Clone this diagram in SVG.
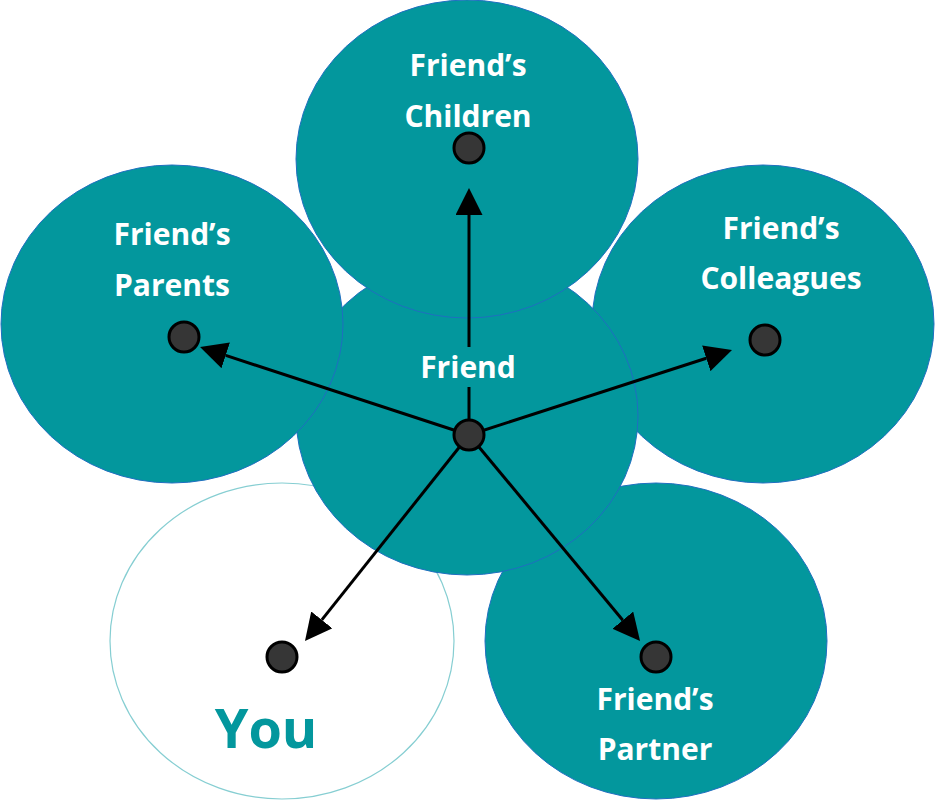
<svg xmlns="http://www.w3.org/2000/svg" width="935" height="800" viewBox="0 0 935 800">
<style>
.c{fill:#03979D;stroke:#1F6FC0;stroke-width:1}
.you{fill:#ffffff;stroke:#86CED2;stroke-width:1.2}
.t{font-family:"Open Sans","Liberation Sans",sans-serif;font-weight:700;font-size:30px;fill:#ffffff;text-anchor:middle}
.ty{font-family:"Open Sans","Liberation Sans",sans-serif;font-weight:700;font-size:54px;fill:#03979D;text-anchor:middle}
.d{fill:#363636;stroke:#000;stroke-width:3}
.l{fill:none;stroke:#000;stroke-width:3}
</style>
<defs>
<marker id="ah" viewBox="0 0 27 27" refX="0" refY="13.5" markerWidth="27" markerHeight="27" markerUnits="userSpaceOnUse" orient="auto">
<path d="M0,0 L27,13.5 L0,27 z" fill="#000"/>
</marker>
</defs>
<rect width="935" height="800" fill="#ffffff"/>
<g id="colleagues">
<ellipse class="c" cx="763" cy="324" rx="171" ry="159"/>
<text class="t" x="781" y="239">Friend’s</text>
<text class="t" x="781" y="289">Colleagues</text>
<circle class="d" cx="765" cy="340" r="15"/>
</g>
<g id="you">
<ellipse class="you" cx="282" cy="641" rx="172" ry="158"/>
<text class="ty" x="266" y="748">You</text>
<circle class="d" cx="282" cy="657" r="15"/>
</g>
<g id="partner">
<ellipse class="c" cx="656" cy="641" rx="171" ry="158"/>
<text class="t" x="655" y="710">Friend’s</text>
<text class="t" x="655" y="760">Partner</text>
<circle class="d" cx="656" cy="657" r="15"/>
</g>
<g id="friend">
<ellipse class="c" cx="467" cy="416" rx="171" ry="159"/>
<text class="t" x="468" y="378">Friend</text>
</g>
<g id="children">
<ellipse class="c" cx="467" cy="159" rx="171" ry="159"/>
<text class="t" x="468" y="76">Friend’s</text>
<text class="t" x="468" y="127">Children</text>
<circle class="d" cx="469" cy="148" r="15"/>
</g>
<g id="parents">
<ellipse class="c" cx="172" cy="324" rx="171" ry="159"/>
<text class="t" x="172" y="245">Friend’s</text>
<text class="t" x="172" y="296">Parents</text>
<circle class="d" cx="184" cy="337" r="15"/>
</g>
<g id="connectors">
<path class="l" d="M469,435 V387 M469,347 V215" marker-end="url(#ah)"/>
<path class="l" d="M469,435 L225.7,355.4" marker-end="url(#ah)"/>
<path class="l" d="M469,435 L706.3,358.3" marker-end="url(#ah)"/>
<path class="l" d="M469,435 L321.8,619.9" marker-end="url(#ah)"/>
<path class="l" d="M469,435 L622.8,620.2" marker-end="url(#ah)"/>
</g>
<g id="friend-hub">
<circle class="d" cx="469" cy="435" r="15"/>
</g>
</svg>
